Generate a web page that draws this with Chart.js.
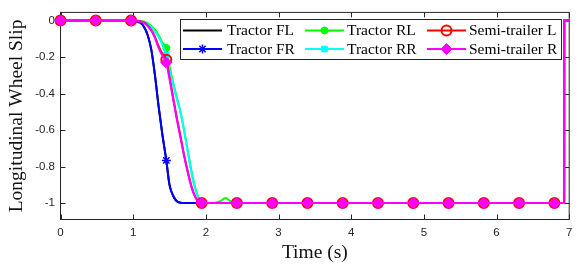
<!DOCTYPE html>
<html>
<head>
<meta charset="utf-8">
<script src="https://cdn.jsdelivr.net/npm/chart.js@4.4.1/dist/chart.umd.min.js"></script>
<style>
html,body{margin:0;padding:0;background:#fff;}
#wrap{width:579px;height:264px;position:relative;}
</style>
</head>
<body>
<div id="wrap"><canvas id="c"></canvas></div>
<script>
// ---- data ----
const time = [0, 0.485, 0.971, 1.05, 1.1, 1.15, 1.2, 1.25, 1.3, 1.35, 1.4, 1.456, 1.5, 1.55, 1.6, 1.65, 1.7, 1.75, 1.8, 1.85, 1.9, 1.942, 2.0, 2.1, 2.2, 2.27, 2.35, 2.427, 2.913, 3.398, 3.883, 4.369, 4.854, 5.34, 5.825, 6.31, 6.796, 6.93, 6.931, 7];
const markerTimes = [0, 0.485, 0.971, 1.456, 1.942, 2.427, 2.913, 3.398, 3.883, 4.369, 4.854, 5.34, 5.825, 6.31, 6.796];

const tractorFL = [0, 0, -0.002, -0.005, -0.012, -0.035, -0.08, -0.16, -0.3, -0.47, -0.62, -0.766, -0.9, -0.96, -0.99, -0.998, -1, -1, -1, -1, -1, -1, -1, -1, -1, -1, -1, -1, -1, -1, -1, -1, -1, -1, -1, -1, -1, -1, 0, 0];
const tractorFR = [0, 0, -0.002, -0.005, -0.012, -0.035, -0.08, -0.16, -0.3, -0.47, -0.62, -0.766, -0.9, -0.96, -0.99, -0.998, -1, -1, -1, -1, -1, -1, -1, -1, -1, -1, -1, -1, -1, -1, -1, -1, -1, -1, -1, -1, -1, -1, 0, 0];
const tractorRL = [0, 0, 0, -0.001, -0.002, -0.006, -0.014, -0.03, -0.05, -0.08, -0.12, -0.15, -0.25, -0.34, -0.42, -0.5, -0.6, -0.71, -0.82, -0.91, -0.97, -0.99, -0.998, -1, -0.99, -0.972, -0.993, -1, -1, -1, -1, -1, -1, -1, -1, -1, -1, -1, 0, 0];
const tractorRR = [0, 0, 0, -0.001, -0.003, -0.008, -0.018, -0.035, -0.06, -0.09, -0.13, -0.19, -0.27, -0.35, -0.43, -0.5, -0.6, -0.72, -0.83, -0.92, -0.975, -0.995, -1, -1, -1, -1, -1, -1, -1, -1, -1, -1, -1, -1, -1, -1, -1, -1, 0, 0];
const semiL = [0, 0, 0, -0.001, -0.004, -0.01, -0.026, -0.052, -0.09, -0.14, -0.18, -0.215, -0.31, -0.42, -0.53, -0.63, -0.735, -0.825, -0.905, -0.962, -0.992, -1, -1, -1, -1, -1, -1, -1, -1, -1, -1, -1, -1, -1, -1, -1, -1, -1, 0, 0];
const semiR = [0, 0, 0, -0.002, -0.005, -0.012, -0.03, -0.056, -0.095, -0.15, -0.19, -0.23, -0.32, -0.43, -0.54, -0.64, -0.74, -0.83, -0.91, -0.965, -0.993, -1, -1, -1, -1, -1, -1, -1, -1, -1, -1, -1, -1, -1, -1, -1, -1, -1, 0, 0];

const xTicks = [0, 1, 2, 3, 4, 5, 6, 7];
const yTicks = [0, -0.2, -0.4, -0.6, -0.8, -1];
const labels = ['Tractor FL', 'Tractor FR', 'Tractor RL', 'Tractor RR', 'Semi-trailer L', 'Semi-trailer R'];

// ---- styles ----
const styles = [
  {color:'#000000', style:false, r:0, bw:1, fill:'#000000'},
  {color:'#0000ff', style:'star', r:4.5, bw:1.5, fill:'#0000ff'},
  {color:'#00ff00', style:'circle', r:3.5, bw:1, fill:'#00ff00'},
  {color:'#00ffff', style:'rect', r:4, bw:1, fill:'#00ffff'},
  {color:'#ff0000', style:'circle', r:5, bw:2, fill:'rgba(0,0,0,0)'},
  {color:'#ff00ff', style:'rectRot', r:5.5, bw:1, fill:'#ff00ff'}
];
const series = [tractorFL, tractorFR, tractorRL, tractorRR, semiL, semiR];

const datasets = series.map((vals, i) => {
  const s = styles[i];
  return {
    label: labels[i],
    data: time.map((t, k) => ({x: t, y: vals[k]})),
    borderColor: s.color,
    borderWidth: 2,
    backgroundColor: s.fill,
    pointStyle: s.style || 'circle',
    pointBorderColor: s.color,
    pointBackgroundColor: s.fill,
    pointBorderWidth: s.bw,
    pointRadius: (c) => (s.style && c.raw && markerTimes.includes(c.raw.x)) ? s.r : 0,
    pointHoverRadius: 0,
    cubicInterpolationMode: 'monotone',
    fill: false,
    clip: false,
    order: 5 - i
  };
});

const AX = '#262626';
const TICKLEN = 5;

const framePlugin = {
  id: 'frame',
  beforeDatasetsDraw(chart) {
    const {ctx, chartArea: a, scales} = chart;
    ctx.save();
    ctx.strokeStyle = AX;
    ctx.lineWidth = 1;
    ctx.strokeRect(a.left, a.top, a.right - a.left, a.bottom - a.top);
    ctx.beginPath();
    xTicks.forEach(v => {
      const px = Math.round(scales.x.getPixelForValue(v)) + 0.5;
      ctx.moveTo(px, a.bottom); ctx.lineTo(px, a.bottom - TICKLEN);
      ctx.moveTo(px, a.top); ctx.lineTo(px, a.top + TICKLEN);
    });
    yTicks.forEach(v => {
      const py = Math.round(scales.y.getPixelForValue(v)) + 0.5;
      ctx.moveTo(a.left, py); ctx.lineTo(a.left + TICKLEN, py);
      ctx.moveTo(a.right, py); ctx.lineTo(a.right - TICKLEN, py);
    });
    ctx.stroke();
    ctx.restore();
  },
  afterDraw(chart) {
    const ctx = chart.ctx;
    ctx.save();
    const bx = 180.5, by = 19.5, bw = 381, bh = 40;
    ctx.fillStyle = '#ffffff';
    ctx.fillRect(bx, by, bw, bh);
    ctx.strokeStyle = AX;
    ctx.lineWidth = 1;
    ctx.strokeRect(bx, by, bw, bh);
    const rowsY = [30.5, 49];
    const lineX0 = [183, 305, 427];
    const lineLen = 39;
    const textX = [227, 347, 469];
    ctx.font = '15.5px "Liberation Serif", "Times New Roman", serif';
    ctx.textBaseline = 'middle';
    ctx.textAlign = 'left';
    chart.data.datasets.forEach((ds, i) => {
      const col = Math.floor(i / 2), row = i % 2;
      const y = rowsY[row];
      const s = styles[i];
      ctx.strokeStyle = s.color;
      ctx.lineWidth = 2;
      ctx.beginPath();
      ctx.moveTo(lineX0[col], y);
      ctx.lineTo(lineX0[col] + lineLen, y);
      ctx.stroke();
      if (s.style && Chart.helpers && Chart.helpers.drawPoint) {
        ctx.strokeStyle = s.color;
        ctx.fillStyle = s.fill;
        ctx.lineWidth = s.bw;
        Chart.helpers.drawPoint(ctx, {pointStyle: s.style, radius: s.r, borderWidth: s.bw, rotation: 0}, lineX0[col] + lineLen / 2, y);
      }
      ctx.fillStyle = '#000000';
      ctx.fillText(ds.label, textX[col], y + 0.5);
    });
    ctx.restore();
  }
};

new Chart(document.getElementById('c'), {
  type: 'line',
  data: {datasets},
  options: {
    responsive: true,
    maintainAspectRatio: false,
    animation: false,
    events: [],
    layout: {padding: {left: 0, right: 4.5, top: 9.5, bottom: 0}},
    plugins: {legend: {display: false}, tooltip: {enabled: false}},
    scales: {
      x: {
        type: 'linear', min: 0, max: 7,
        afterBuildTicks: (sc) => { sc.ticks = xTicks.map(v => ({value: v})); },
        afterFit: (sc) => { sc.height = 44.5; },
        grid: {display: false, drawTicks: false},
        border: {display: false},
        ticks: {
          padding: 6.6, maxRotation: 0, autoSkip: false, color: AX,
          font: {family: '"Liberation Sans", Arial, sans-serif', size: 11.5},
          callback: (v) => String(v)
        },
        title: {
          display: true, text: 'Time (s)', color: '#111',
          font: {family: '"Liberation Serif", "Times New Roman", serif', size: 19.5, lineHeight: 1},
          padding: {top: 0, bottom: 1}
        }
      },
      y: {
        type: 'linear', min: -1.09, max: 0.045,
        afterBuildTicks: (sc) => { sc.ticks = yTicks.map(v => ({value: v})); },
        afterFit: (sc) => { sc.width = 60.5; },
        grid: {display: false, drawTicks: false},
        border: {display: false},
        ticks: {
          padding: 5.5, autoSkip: false, color: AX,
          font: {family: '"Liberation Sans", Arial, sans-serif', size: 11.5},
          callback: (v) => String(v)
        },
        title: {
          display: true, text: 'Longitudinal Wheel Slip', color: '#111',
          font: {family: '"Liberation Serif", "Times New Roman", serif', size: 19.5, lineHeight: 1},
          padding: {top: 7.5, bottom: 0}
        }
      }
    }
  },
  plugins: [framePlugin]
});
</script>
</body>
</html>
